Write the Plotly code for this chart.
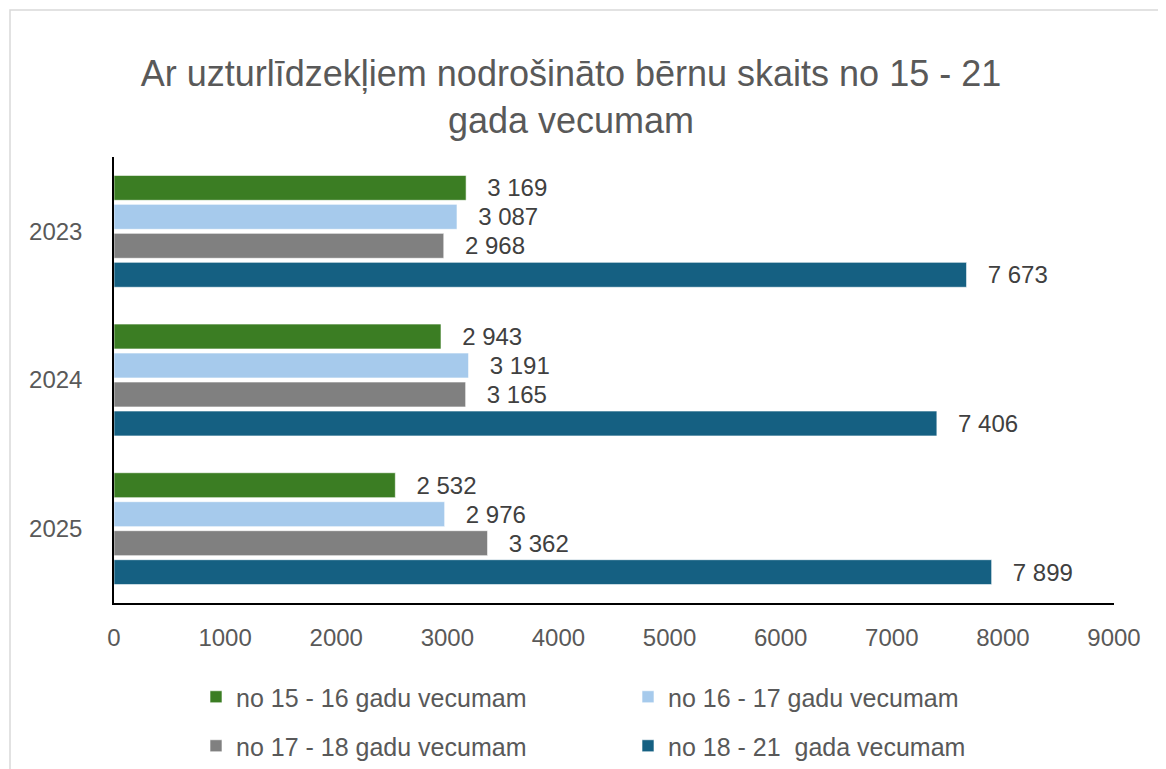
import plotly.graph_objects as go

years = ["2023", "2024", "2025"]
series_names = ["no 15 - 16 gadu vecumam", "no 16 - 17 gadu vecumam",
                "no 17 - 18 gadu vecumam", "no 18 - 21  gada vecumam"]
v_15_16 = [3169, 2943, 2532]
v_16_17 = [3087, 3191, 2976]
v_17_18 = [2968, 3165, 3362]
v_18_21 = [7673, 7406, 7899]
colors = ["#3b7d23", "#a6caec", "#808080", "#156082"]
x_ticks = [0, 1000, 2000, 3000, 4000, 5000, 6000, 7000, 8000, 9000]

all_values = [v_15_16, v_16_17, v_17_18, v_18_21]
legend_ids = ["legend", "legend", "legend2", "legend2"]

FONT = "Liberation Sans, Arial, sans-serif"

def fmt(v):
    return "\u00a0\u00a0\u2009" + f"{v:,}".replace(",", " ")

fig = go.Figure()
for name, vals, col, lg in zip(series_names, all_values, colors, legend_ids):
    fig.add_trace(go.Bar(
        y=years, x=vals, orientation="h", name=name,
        marker=dict(color=col, line=dict(color="rgba(255,255,255,0.6)", width=1)),
        text=[fmt(v) for v in vals], textposition="outside", constraintext="none",
        textfont=dict(size=24, color="#404040", family=FONT),
        cliponaxis=False, legend=lg,
    ))

OFF = 8  # page body margin
W, H = 1166, 769
L = 114 - OFF
T = 157 - OFF
R = W - (1114 - OFF)
B = H - (603 - OFF)
pw, ph = W - L - R, H - T - B

def py(page_y):
    fy = page_y - OFF
    return (T + ph - fy) / ph

def px(page_x):
    fx = page_x - OFF
    return (fx - L) / pw

fig.update_layout(
    width=W, height=H,
    margin=dict(l=L, r=R, t=T, b=B, autoexpand=False),
    paper_bgcolor="white", plot_bgcolor="white",
    barmode="group", bargap=0.22, bargroupgap=0.14,
    font=dict(family=FONT, color="#595959"),
    title=dict(text="Ar uzturlīdzekļiem nodrošināto bērnu skaits no 15 - 21<br>gada vecumam",
               x=(571 - OFF) / W, xref="container", xanchor="center",
               y=1 - (86 - OFF) / H, yanchor="middle",
               font=dict(size=36, color="#595959", family=FONT)),
    xaxis=dict(range=[0, 9000], tickvals=x_ticks, ticktext=[str(t) for t in x_ticks],
               showgrid=False, zeroline=False, showline=True, linecolor="#000000", linewidth=1.5,
               ticks="", tickfont=dict(size=24, color="#595959"), ticklabelstandoff=12),
    yaxis=dict(autorange="reversed", showgrid=False, showline=True, linecolor="#000000",
               linewidth=1.5, ticks="", tickfont=dict(size=24, color="#595959"),
               ticklabelstandoff=25),
    legend=dict(orientation="h", x=px(196), xanchor="left", y=py(697),
                yanchor="middle", entrywidth=387, entrywidthmode="pixels",
                font=dict(size=25, color="#595959"), traceorder="normal"),
    legend2=dict(orientation="h", x=px(196), xanchor="left", y=py(746),
                 yanchor="middle", entrywidth=387, entrywidthmode="pixels",
                 font=dict(size=25, color="#595959"), traceorder="normal"),
    showlegend=True,
)

fig.add_shape(type="rect", xref="paper", yref="paper",
              x0=px(10), x1=px(1160), y0=py(800), y1=py(10),
              line=dict(color="#d9d9d9", width=1.5), fillcolor="rgba(0,0,0,0)", layer="below")

fig.write_html("out.html")
